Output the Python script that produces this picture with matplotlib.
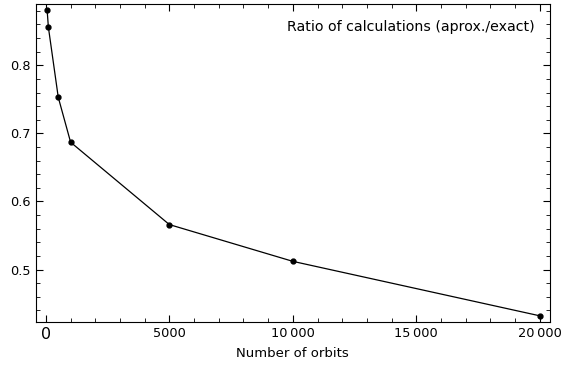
import matplotlib.pyplot as plt
from matplotlib.ticker import MultipleLocator, FuncFormatter

# Data
n_orbits = [50, 100, 500, 1000, 5000, 10000, 20000]
ratio = [0.881, 0.856, 0.753, 0.687, 0.566, 0.512, 0.432]


def thousands(x, pos):
    # thin space as thousands separator, like "10 000"
    if abs(x) >= 10000:
        return f"{int(x):,}".replace(",", "\u2009")
    return f"{int(x)}"


fig, ax = plt.subplots(figsize=(5.61, 3.65), dpi=100)
ax.plot(n_orbits, ratio, color='black', linewidth=0.9, marker='o', markersize=3.5)
ax.margins(0.02)
ax.set_xlim(-405, 20405)

ax.xaxis.set_major_locator(MultipleLocator(5000))
ax.xaxis.set_minor_locator(MultipleLocator(1000))
ax.yaxis.set_major_locator(MultipleLocator(0.1))
ax.yaxis.set_minor_locator(MultipleLocator(0.02))
ax.xaxis.set_major_formatter(FuncFormatter(thousands))
ax.tick_params(which='both', direction='in', top=True, right=True, labelsize=9.3)
ax.tick_params(which='major', length=5)
ax.tick_params(which='minor', length=3)

ax.set_xlabel('Number of orbits', fontsize=9.5)
ax.text(0.97, 0.95, 'Ratio of calculations (aprox./exact)', transform=ax.transAxes,
        ha='right', va='top', fontsize=10.2)

fig.canvas.draw()
for lab in ax.get_xticklabels():
    if lab.get_text() == '0':
        lab.set_fontsize(11.5)

fig.subplots_adjust(left=0.064, right=0.980, top=0.989, bottom=0.118)
fig.savefig('out.png')
